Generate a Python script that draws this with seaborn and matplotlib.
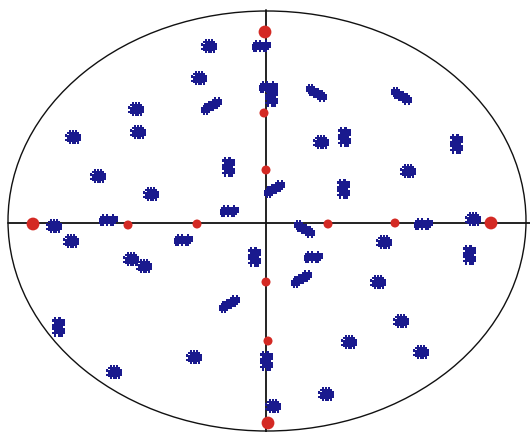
import matplotlib
matplotlib.use("Agg")
import matplotlib.pyplot as plt
from matplotlib.patches import Ellipse
from matplotlib.path import Path
import pandas as pd
import seaborn as sns

# Cluster centres (screen-like coordinates, y grows downward) and their shape
cluster_x = [208, 260, 198, 267, 270, 210, 315, 400, 135, 137, 72, 320, 343, 455,
             97, 227, 407, 342, 150, 273, 228, 53, 107, 70, 182, 303, 253, 312,
             300, 130, 143, 422, 472, 383, 468, 377, 228, 57, 113, 193, 265, 272,
             325, 348, 400, 420]
cluster_y = [47, 47, 79, 88, 98, 107, 94, 97, 110, 133, 138, 143, 138, 145,
             177, 168, 172, 190, 195, 190, 212, 227, 221, 242, 241, 230, 258, 258,
             280, 260, 267, 225, 220, 243, 256, 283, 305, 328, 373, 358, 362, 407,
             395, 343, 322, 353]
cluster_shape = ["round", "horiz", "round", "horiz", "vert", "diag", "diag2", "diag2",
                 "round", "round", "round", "round", "vert", "vert",
                 "round", "vert", "round", "vert", "round", "diag", "horiz", "round",
                 "horiz", "round", "horiz", "diag2", "vert", "horiz",
                 "diag", "round", "round", "horiz", "round", "round", "vert", "round",
                 "diag", "vert", "round", "round", "vert", "round",
                 "round", "round", "round", "round"]

# Reference points on the two axes
ref_x = [265, 268, 33, 491, 264, 266, 266, 268, 128, 197, 328, 395]
ref_y = [32, 423, 224, 223, 113, 170, 282, 341, 225, 224, 224, 223]
ref_kind = ["outer", "outer", "outer", "outer", "inner", "inner", "inner", "inner",
            "inner", "inner", "inner", "inner"]

PATTERNS = {
    "round": ["..#.#.#..",
              ".#######.",
              "#.#######",
              "#########",
              ".########",
              "#########",
              ".#######.",
              "..#.##.#."],
    "diag": [".......#.#.",
             "......#####",
             "....#######",
             "..#########",
             ".#########.",
             "#########..",
             "#######....",
             "#####......",
             ".#.#......."],
    "vert": [".#.#..",
             "######",
             ".#####",
             "######",
             "#####.",
             "######",
             ".#####",
             "######",
             ".#.##."],
    "horiz": ["..#.#..#..",
              ".#########",
              "##########",
              "##########",
              "#########.",
              ".##.#.##.."],
}
PATTERNS["diag2"] = [row[::-1] for row in PATTERNS["diag"]]


def speckle(rows, fill=1.1):
    verts, codes = [], []
    h = len(rows)
    w = max(len(r) for r in rows)
    for i, row in enumerate(rows):
        for j, ch in enumerate(row):
            if ch != "#":
                continue
            x0 = j - (w - fill) / 2
            y0 = (h - fill) / 2 - i
            sq = [(x0, y0), (x0 + fill, y0), (x0 + fill, y0 + fill),
                  (x0, y0 + fill), (x0, y0)]
            verts += sq
            codes += [Path.MOVETO, Path.LINETO, Path.LINETO, Path.LINETO,
                      Path.CLOSEPOLY]
    return Path(verts, codes)


markers = {k: speckle(v) for k, v in PATTERNS.items()}
marker_sizes = {"round": 150, "vert": 240, "horiz": 240, "diag": 280, "diag2": 280}

clusters = pd.DataFrame({"x": cluster_x, "y": cluster_y, "shape": cluster_shape})
refs = pd.DataFrame({"x": ref_x, "y": ref_y, "kind": ref_kind})

sns.set_style("white")
fig = plt.figure(figsize=(5.30, 4.32), dpi=100)
ax = fig.add_axes([0, 0, 1, 1])
ax.set_xlim(0, 530)
ax.set_ylim(432, 0)
ax.set_axis_off()

ax.add_patch(Ellipse((267, 221), 518, 420, facecolor="none",
                     edgecolor="#111111", linewidth=1.0, zorder=1))
ax.plot([8, 530], [223, 223], color="#111111", linewidth=1.3, zorder=1)
ax.plot([266, 266], [10, 432], color="#111111", linewidth=1.3, zorder=1)

sns.scatterplot(data=clusters, x="x", y="y", style="shape", markers=markers,
                size="shape", sizes=marker_sizes, color="#1a1a8e",
                linewidth=0, legend=False, ax=ax, zorder=3)
sns.scatterplot(data=refs, x="x", y="y", size="kind",
                sizes={"outer": 85, "inner": 42}, color="#d42a24",
                linewidth=0, legend=False, ax=ax, zorder=4)

ax.set_xlim(0, 530)
ax.set_ylim(432, 0)
fig.savefig("out.png", dpi=100)
